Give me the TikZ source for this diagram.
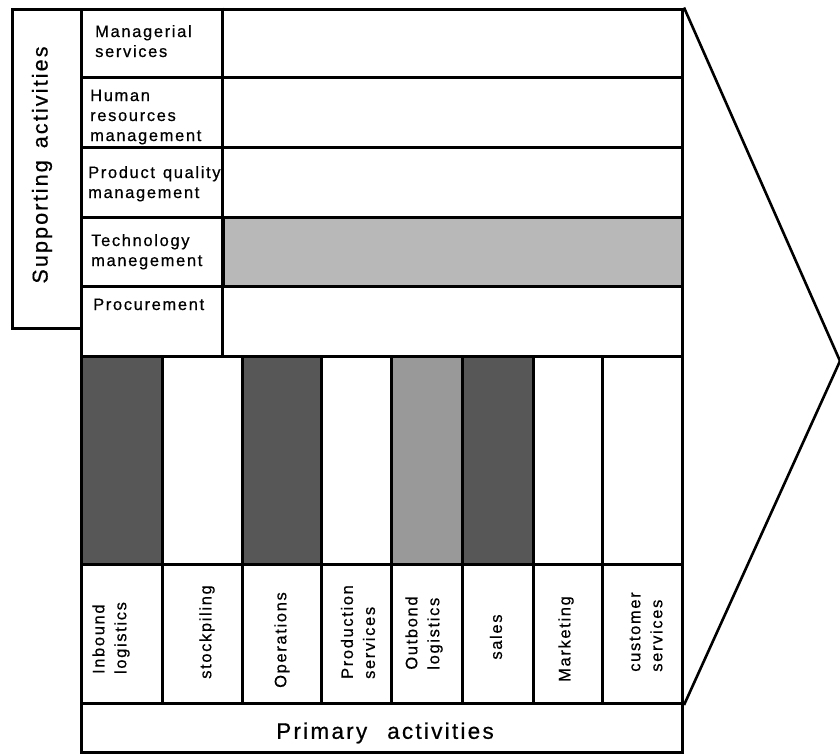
\documentclass[tikz,border=0pt]{standalone}
\usepackage{fontspec}
\setmainfont[LetterSpace=10,FakeBold=0.6]{Liberation Sans}
\begin{document}
\begin{tikzpicture}[x=1pt,y=-1pt,
  cell/.style={draw, line width=3pt, rectangle, inner sep=0pt, anchor=north west},
  rowlbl/.style={inner sep=0pt, align=left, anchor=base west,
    font=\fontsize{16.5}{20}\selectfont},
  collbl/.style={inner sep=0pt, align=left, rotate=90,
    font=\fontsize{16.5}{22}\selectfont},
  biglbl/.style={inner sep=0pt, font=\fontsize{21.5}{24}\selectfont},
  darkshade/.style={fill=black!66},
  midshade/.style={fill=black!40},
  lightshade/.style={fill=black!28}]
\useasboundingbox (0,0) rectangle (840,753);

% supporting activities: title column and the five rows
\node[cell, minimum width=69pt, minimum height=319pt] (sup) at (11,7.5) {};
\node[cell, minimum width=601pt, minimum height=68.5pt] (r1) at (80,7.5) {};
\node[cell, minimum width=601pt, minimum height=70pt] (r2) at (80,76) {};
\node[cell, minimum width=601pt, minimum height=70pt] (r3) at (80,146) {};
\node[cell, minimum width=142pt, minimum height=69pt] (r4) at (80,216) {};
\node[cell, lightshade, minimum width=459pt, minimum height=69pt] (r4bar) at (222,216) {};
\node[cell, minimum width=601pt, minimum height=70pt] (r5) at (80,285) {};
\draw[line width=3pt] (222,7.5) -- (222,355);

\node[biglbl, rotate=90] (suptxt) at (42,165) {Supporting\hspace{12pt}activities};

% multi-line labels are placed by the baseline of their last line
\node[rowlbl] (t1) at (95,57) {Managerial\\services};
\node[rowlbl] (t2) at (90,141) {Human\\resources\\management};
\node[rowlbl] (t3) at (88,198) {Product\hspace{8pt}quality\\management};
\node[rowlbl] (t4) at (91,266) {Technology\\manegement};
\node[rowlbl] (t5) at (93,310) {Procurement};

% primary activities: bars, label cells and caption
\node[cell, darkshade, minimum width=81pt, minimum height=208pt] (b1) at (80,355) {};
\node[cell, minimum width=80pt, minimum height=208pt] (b2) at (161,355) {};
\node[cell, darkshade, minimum width=79pt, minimum height=208pt] (b3) at (241,355) {};
\node[cell, minimum width=70pt, minimum height=208pt] (b4) at (320,355) {};
\node[cell, midshade, minimum width=71pt, minimum height=208pt] (b5) at (390,355) {};
\node[cell, darkshade, minimum width=71pt, minimum height=208pt] (b6) at (461,355) {};
\node[cell, minimum width=69pt, minimum height=208pt] (b7) at (532,355) {};
\node[cell, minimum width=80pt, minimum height=208pt] (b8) at (601,355) {};

\node[cell, minimum width=81pt, minimum height=139pt] (c1) at (80,563) {};
\node[cell, minimum width=80pt, minimum height=139pt] (c2) at (161,563) {};
\node[cell, minimum width=79pt, minimum height=139pt] (c3) at (241,563) {};
\node[cell, minimum width=70pt, minimum height=139pt] (c4) at (320,563) {};
\node[cell, minimum width=71pt, minimum height=139pt] (c5) at (390,563) {};
\node[cell, minimum width=71pt, minimum height=139pt] (c6) at (461,563) {};
\node[cell, minimum width=69pt, minimum height=139pt] (c7) at (532,563) {};
\node[cell, minimum width=80pt, minimum height=139pt] (c8) at (601,563) {};

\node[collbl] (l1) at (111,638) {Inbound\\logistics};
\node[collbl] (l2) at (207,632) {stockpiling};
\node[collbl] (l3) at (282,640) {Operations};
\node[collbl] (l4) at (358,632) {Production\\services};
\node[collbl] (l5) at (424,633) {Outbond\\logistics};
\node[collbl] (l6) at (496,637) {sales};
\node[collbl] (l7) at (566,639) {Marketing};
\node[collbl] (l8) at (646,632) {customer\\services};

\node[cell, minimum width=601pt, minimum height=49pt] (prim) at (80,702) {};
\node[inner sep=0pt, font=\fontsize{22.5}{25}\selectfont] (primtxt) at (385,733)
  {Primary\hspace{20pt}activities};

% margin wedge on the right
\coordinate (apex) at (840,361);
\draw[line width=2.6pt, line join=miter] (r1.north east) -- (apex) -- (c8.south east);
\end{tikzpicture}
\end{document}
